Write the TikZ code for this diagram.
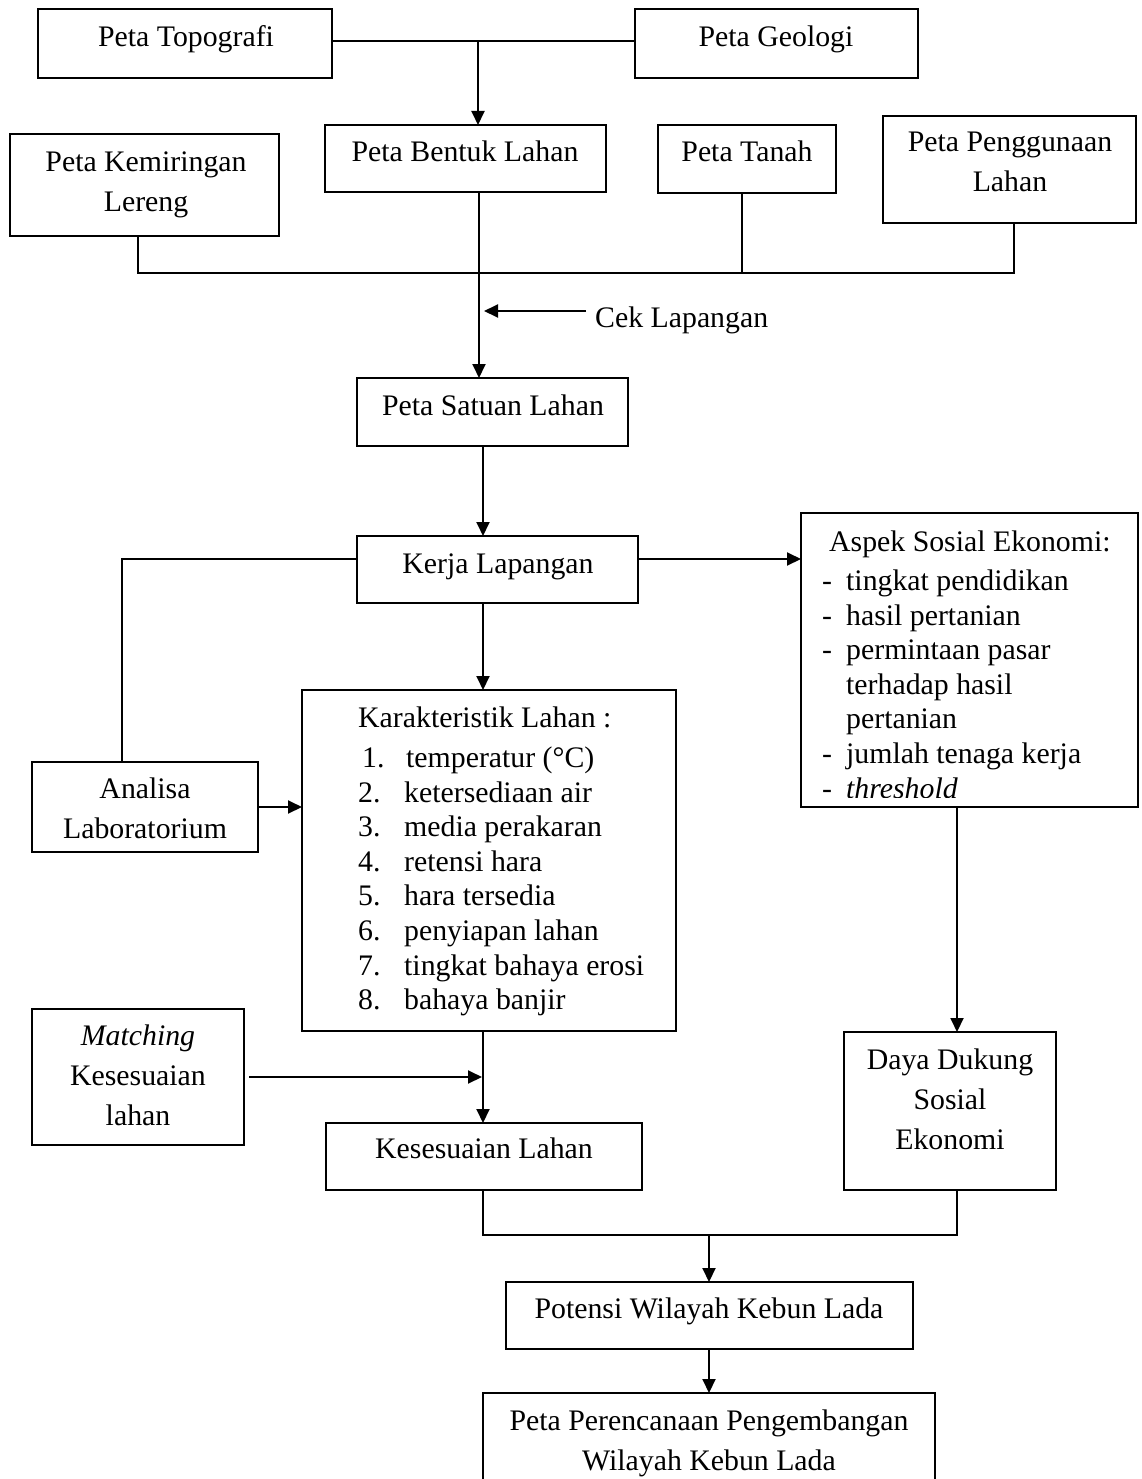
\documentclass[tikz,border=0pt]{standalone}
\usepackage{fontspec}
\setmainfont{Liberation Serif}
\usetikzlibrary{arrows.meta}
\newcommand\bx[5]{\node[box, minimum width={#4-#2}, minimum height={#5-#3}] (#1) at (#2,#3) {};}
\begin{document}
\begin{tikzpicture}[x=1pt,y=-1pt,
  box/.style={draw, line width=1.9pt, inner sep=0pt, outer sep=0pt, anchor=north west},
  ln/.style={line width=1.9pt},
  arr/.style={line width=1.9pt, -{Triangle[length=14pt,width=13pt]}},
  txt/.style={inner sep=0pt, font=\fontsize{29.8}{40}\selectfont, align=center},
  lst/.style={inner sep=0pt, font=\fontsize{29.8}{34.6}\selectfont, align=left, anchor=north west}]
\useasboundingbox (0,0) rectangle (1142,1479);
\clip (0,0) rectangle (1142,1479);
% boxes
\bx{topo}{38}{9}{332}{78}
\bx{geo}{635}{9}{918}{78}
\bx{bentuk}{325}{125}{606}{192}
\bx{tanah}{658}{125}{836}{193}
\bx{kemir}{10}{134}{279}{236}
\bx{pengg}{883}{116}{1136}{223}
\bx{satuan}{357}{378}{628}{446}
\bx{kerja}{357}{536}{638}{603}
\bx{aspek}{801}{513}{1138}{807}
\bx{karak}{302}{690}{676}{1031}
\bx{analisa}{32}{762}{258}{852}
\bx{match}{32}{1009}{244}{1145}
\bx{sesuai}{326}{1123}{642}{1190}
\bx{daya}{844}{1032}{1056}{1190}
\bx{potensi}{506}{1282}{913}{1349}
\bx{renc}{483}{1393}{935}{1530}
% texts
\node[txt, anchor=base] (topoT) at (186,47) {Peta Topografi};
\node[txt, anchor=base] (geoT) at (776,47) {Peta Geologi};
\node[txt, anchor=base] (bentukT) at (465,162) {Peta Bentuk Lahan};
\node[txt, anchor=base] (tanahT) at (747,162) {Peta Tanah};
\node[txt, anchor=north] (kemirT) at (146,152) {Peta Kemiringan\\Lereng};
\node[txt, anchor=north] (penggT) at (1010,132) {Peta Penggunaan\\Lahan};
\node[txt, anchor=base] (satuanT) at (493,415) {Peta Satuan Lahan};
\node[txt, anchor=base] (kerjaT) at (498,573) {Kerja Lapangan};
\node[txt, anchor=base west] (cekT) at (595,327) {Cek Lapangan};
\begin{scope}
\clip (801,513) rectangle (1138,797);
\node[lst] (aspekT) at (822,530.6) {\hspace*{7pt}Aspek Sosial Ekonomi:\\[4.5pt]
\makebox[24pt][l]{-}tingkat pendidikan\\
\makebox[24pt][l]{-}hasil pertanian\\
\makebox[24pt][l]{-}permintaan pasar\\
\hspace*{24pt}terhadap hasil\\
\hspace*{24pt}pertanian\\
\makebox[24pt][l]{-}jumlah tenaga kerja\\
\makebox[24pt][l]{-}\textit{threshold}};
\end{scope}
\node[lst] (karakT) at (358,706.6) {Karakteristik Lahan :\\[5.5pt]
\hspace*{4pt}\makebox[44pt][l]{1.}temperatur (°C)\\
\makebox[46pt][l]{2.}ketersediaan air\\
\makebox[46pt][l]{3.}media perakaran\\
\makebox[46pt][l]{4.}retensi hara\\
\makebox[46pt][l]{5.}hara tersedia\\
\makebox[46pt][l]{6.}penyiapan lahan\\
\makebox[46pt][l]{7.}tingkat bahaya erosi\\
\makebox[46pt][l]{8.}bahaya banjir};
\node[txt, anchor=north] (analisaT) at (145,778) {Analisa\\Laboratorium};
\node[txt, anchor=north] (matchT) at (138,1025) {\textit{Matching}\\Kesesuaian\\lahan};
\node[txt, anchor=base] (sesuaiT) at (484,1158) {Kesesuaian Lahan};
\node[txt, anchor=north] (dayaT) at (950,1049) {Daya Dukung\\Sosial\\Ekonomi};
\node[txt, anchor=base] (potensiT) at (709,1318) {Potensi Wilayah Kebun Lada};
\node[txt, anchor=north] (rencT) at (709,1410) {Peta Perencanaan Pengembangan\\Wilayah Kebun Lada};
% connectors
\coordinate (jTop) at (478,41);
\draw[ln] (topo.east |- jTop) -- (geo.west |- jTop);
\draw[arr] (jTop) -- (bentuk.north -| jTop);
\coordinate (jB) at (479,273);
\draw[arr] (bentuk.south -| jB) -- (satuan.north -| jB);
\coordinate (busL) at (138,273);
\coordinate (busR) at (1014,273);
\coordinate (busT) at (742,273);
\draw[ln] (kemir.south -| busL) -- (busL) -- (busR) -- (pengg.south -| busR);
\draw[ln] (tanah.south -| busT) -- (busT);
\coordinate (cekS) at (586,311);
\coordinate (cekE) at (484,311);
\draw[arr] (cekS) -- (cekE);
\coordinate (xA) at (483,0);
\draw[arr] (satuan.south -| xA) -- (kerja.north -| xA);
\coordinate (kL) at (122,559);
\draw[ln] (kerja.west |- kL) -- (kL) -- (analisa.north -| kL);
\draw[arr] (kerja.east |- kL) -- (aspek.west |- kL);
\draw[arr] (kerja.south -| xA) -- (karak.north -| xA);
\draw[arr] (analisa.east) -- (analisa.east -| karak.west);
\draw[arr] (karak.south -| xA) -- (sesuai.north -| xA);
\coordinate (mE) at (482,1077);
\draw[arr] ([xshift=5pt]match.east) -- (match.east -| mE);
\coordinate (xD) at (957,0);
\draw[arr] (aspek.south -| xD) -- (daya.north -| xD);
\coordinate (bL) at (483,1235);
\coordinate (bR) at (957,1235);
\coordinate (bM) at (709,1235);
\draw[ln] (sesuai.south -| bL) -- (bL) -- (bR) -- (daya.south -| bR);
\draw[arr] (bM) -- (potensi.north -| bM);
\draw[arr] (potensi.south -| bM) -- (renc.north -| bM);
\end{tikzpicture}
\end{document}
